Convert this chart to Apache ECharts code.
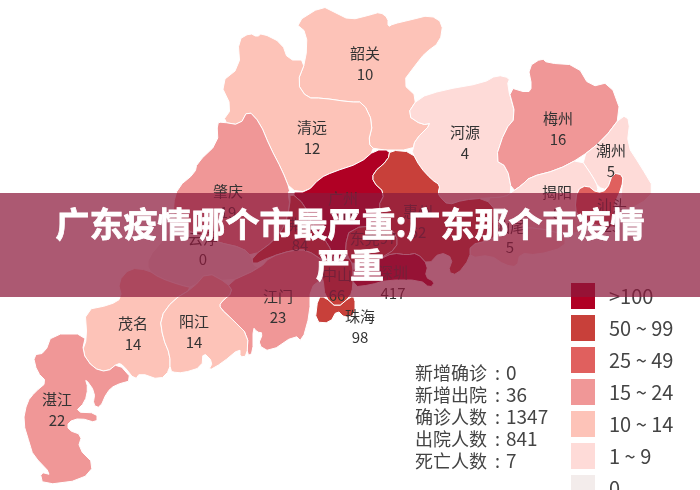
<!DOCTYPE html>
<html>
<head>
<meta charset="utf-8">
<style>
html, body { margin: 0; padding: 0; background: #fff; overflow: hidden; }
#chart { width: 700px; height: 490px; }
</style>
<script src="https://cdn.jsdelivr.net/npm/echarts@6/dist/echarts.min.js"></script>
</head>
<body>
<div id="chart"></div>
<script>
var cityNames = ['韶关', '清远', '河源', '梅州', '潮州', '揭阳', '汕头', '汕尾', '肇庆', '云浮', '广州', '佛山', '东莞', '惠州', '中山', '深圳', '珠海', '江门', '茂名', '阳江', '湛江'];
var cityValues = [10, 12, 4, 16, 5, 8, 25, 5, 19, 0, 346, 84, 97, 62, 66, 417, 98, 23, 14, 14, 22];

var legendLabels = ['>100', '50 ~ 99', '25 ~ 49', '15 ~ 24', '10 ~ 14', '1 ~ 9', '0'];
var legendMins = [100, 50, 25, 15, 10, 1, 0];
var legendMaxs = [100000, 99, 49, 24, 14, 9, 0];
var legendColors = ['#b00024', '#c8403a', '#e0605e', '#f09797', '#fdc3b8', '#fedbd8', '#f3eceb'];

var statNames = ['新增确诊', '新增出院', '确诊人数', '出院人数', '死亡人数'];
var statValues = ['0', '36', '1347', '841', '7'];

var titleText = '广东疫情哪个市最严重:广东那个市疫情\n严重';

var FONT = '"Noto Sans CJK SC", "Noto Sans", sans-serif';

/*==========================================
 * 底图轮廓（按图片像素描的），不是数据
 */
var outlines = {
    '韶关': [[322,6],[334,12],[350,20],[370,15],[380,12],[388,18],[388,27],[393,24],[410,20],[430,15],[443,23],[440,42],[425,53],[417,63],[402,83],[418,98],[407,115],[422,125],[432,123],[415,140],[413,150],[375,150],[368,143],[373,123],[363,102],[350,102],[322,98],[307,98],[297,83],[306,60],[307,33],[295,23]],
    '清远': [[250,33],[257,37],[262,33],[282,43],[288,60],[306,60],[297,83],[307,98],[322,98],[350,102],[363,102],[373,123],[368,143],[375,150],[360,163],[333,172],[320,178],[307,192],[290,190],[282,170],[270,147],[260,123],[248,110],[240,125],[222,122],[232,108],[220,83],[240,67],[238,40]],
    '河源': [[432,123],[422,125],[407,115],[418,98],[443,90],[483,83],[497,75],[510,78],[507,85],[516,117],[505,130],[495,160],[507,167],[512,192],[505,197],[485,198],[463,200],[448,205],[440,197],[438,193],[440,185],[432,180],[420,167],[412,152],[413,150],[415,140]],
    '梅州': [[508,87],[528,93],[532,87],[528,67],[542,58],[547,63],[577,65],[590,87],[610,82],[622,115],[603,140],[580,158],[557,170],[530,177],[522,185],[512,192],[507,167],[495,160],[505,130],[516,117]],
    '潮州': [[622,115],[630,120],[627,145],[640,165],[655,190],[640,205],[620,210],[622,187],[623,175],[613,173],[607,190],[598,187],[593,177],[580,158],[603,140]],
    '揭阳': [[512,192],[522,185],[530,177],[557,170],[580,158],[593,177],[598,187],[597,193],[587,185],[577,190],[575,210],[580,217],[600,227],[565,235],[540,228],[510,228],[500,232],[498,213],[485,198],[505,197]],
    '汕头': [[577,190],[587,185],[597,193],[607,190],[613,173],[623,175],[622,187],[613,207],[617,227],[600,227],[580,217],[575,210]],
    '汕尾': [[470,245],[490,240],[500,232],[510,228],[540,228],[565,235],[565,247],[537,255],[520,253],[517,267],[505,265],[490,255],[470,258]],
    '肇庆': [[248,110],[240,125],[222,122],[217,123],[218,143],[197,163],[195,173],[178,187],[173,205],[175,222],[190,232],[217,242],[243,248],[252,257],[275,240],[285,225],[290,205],[288,193],[290,190],[282,170],[270,147],[260,123]],
    '云浮': [[175,222],[165,238],[148,258],[148,270],[160,278],[180,285],[193,288],[207,272],[227,283],[260,268],[253,265],[252,257],[243,248],[217,242],[190,232]],
    '广州': [[375,150],[390,150],[388,160],[373,173],[373,182],[385,193],[378,207],[385,225],[350,228],[345,247],[348,257],[335,262],[328,243],[312,225],[305,205],[290,192],[307,192],[320,178],[333,172],[360,163]],
    '佛山': [[290,192],[305,205],[312,225],[328,243],[335,262],[325,262],[307,250],[293,250],[270,257],[253,265],[252,257],[275,240],[285,225],[290,205]],
    '东莞': [[350,228],[385,225],[397,235],[397,248],[378,260],[353,265],[348,257],[345,247]],
    '惠州': [[390,150],[412,152],[420,167],[432,180],[440,185],[438,193],[440,197],[448,205],[463,200],[485,198],[498,213],[500,232],[490,240],[470,245],[470,258],[457,275],[448,272],[453,258],[440,252],[428,265],[417,253],[407,255],[393,253],[378,260],[397,248],[397,235],[385,225],[378,207],[385,193],[373,182],[373,173],[388,160]],
    '中山': [[335,262],[348,257],[353,265],[353,287],[350,297],[337,308],[325,297],[323,278],[318,268],[325,262]],
    '深圳': [[353,265],[378,260],[393,253],[407,255],[417,253],[428,265],[425,277],[435,282],[430,288],[420,280],[387,280],[370,285],[353,287]],
    '珠海': [[318,297],[315,322],[330,323],[337,310],[345,318],[355,315],[355,297],[350,297],[337,308],[325,297]],
    '江门': [[220,303],[233,292],[227,283],[260,268],[270,257],[293,250],[307,250],[325,262],[318,268],[323,278],[310,288],[310,313],[302,342],[295,335],[270,352],[258,345],[263,333],[257,332],[253,327],[253,353],[247,356],[248,335],[233,320],[220,308]],
    '茂名': [[118,282],[130,268],[148,270],[160,278],[180,285],[193,288],[173,300],[160,318],[163,338],[170,355],[170,370],[160,380],[140,373],[135,380],[123,365],[118,363],[107,372],[93,368],[82,352],[87,338],[85,310],[110,305],[122,298]],
    '阳江': [[193,288],[207,272],[227,283],[233,292],[220,303],[220,308],[233,320],[248,335],[247,356],[240,357],[240,348],[222,363],[208,371],[213,362],[203,352],[202,367],[183,373],[172,372],[170,370],[170,355],[163,338],[160,318],[173,300]],
    '湛江': [[52,334],[86,334],[82,352],[93,368],[107,372],[118,363],[133,380],[115,385],[107,392],[100,408],[93,405],[95,392],[85,378],[88,388],[85,402],[75,412],[97,413],[97,423],[80,418],[68,422],[68,430],[82,435],[78,448],[95,465],[82,480],[43,485],[40,472],[52,475],[33,455],[30,445],[23,422],[27,402],[35,392],[47,382],[37,372],[33,355],[45,353]]
};

// 标签中心点
var anchors = {
    '韶关': [365,64], '清远': [312,138], '河源': [465,143], '梅州': [558,129], '潮州': [611,161], '揭阳': [557,203], '汕头': [612,216],
    '汕尾': [510,237], '肇庆': [228,202], '云浮': [203,249], '广州': [343,209], '佛山': [300,235], '东莞': [373,238], '惠州': [418,222],
    '中山': [337,285], '深圳': [393,283], '珠海': [360,327], '江门': [278,307], '茂名': [133,334], '阳江': [194,332], '湛江': [57,410]
};

function flip(p) { return [p[0], -p[1]]; }

/*==========================================
 * 切一次角，让描出来的折线圆一点
 */
function softenRing(ring) {
    var out = [];
    for (var i = 0, l = ring.length; i < l; i++) {
        var a = ring[i];
        var b = ring[(i + 1) % l];
        out.push([a[0] * 0.75 + b[0] * 0.25, a[1] * 0.75 + b[1] * 0.25]);
        out.push([a[0] * 0.25 + b[0] * 0.75, a[1] * 0.25 + b[1] * 0.75]);
    }
    return out;
}

function buildGeoJson() {
    var features = [];
    for (var i = 0; i < cityNames.length; i++) {
        var _name = cityNames[i];
        var _ring = softenRing(outlines[_name]).map(flip);
        _ring.push(_ring[0]);
        features.push({
            type: 'Feature',
            properties: { name: _name, cp: flip(anchors[_name]) },
            geometry: { type: 'Polygon', coordinates: [_ring] }
        });
    }
    return { type: 'FeatureCollection', features: features };
}

function buildPieces() {
    var pieces = [];
    for (var i = 0; i < legendLabels.length; i++) {
        pieces.push({ min: legendMins[i], max: legendMaxs[i], label: legendLabels[i], color: legendColors[i] });
    }
    return pieces;
}

function buildSeriesData() {
    var data = [];
    for (var i = 0; i < cityNames.length; i++) {
        data.push({ name: cityNames[i], value: cityValues[i] });
    }
    return data;
}

function buildGraphics() {
    var items = [
        { type: 'rect', z: 100, silent: true, shape: { x: 0, y: 193, width: 700, height: 104 }, style: { fill: 'rgba(140,25,60,0.72)' } },
        { type: 'text', z: 101, silent: true, x: 350, y: 245, style: { text: titleText, fill: '#fff', stroke: '#fff', lineWidth: 0.8, font: 'bold 34px ' + FONT, textAlign: 'center', textVerticalAlign: 'middle', lineHeight: 41 } }
    ];
    for (var i = 0; i < statNames.length; i++) {
        var _y = 373 + i * 22;
        items.push({ type: 'text', silent: true, x: 415, y: _y, style: { text: statNames[i], fill: '#444', font: '18px ' + FONT, textVerticalAlign: 'middle' } });
        items.push({ type: 'text', silent: true, x: 495, y: _y, style: { text: ':', fill: '#444', font: '18px ' + FONT, textVerticalAlign: 'middle' } });
        items.push({ type: 'text', silent: true, x: 506, y: _y, style: { text: statValues[i], fill: '#444', font: '19px ' + FONT, textVerticalAlign: 'middle' } });
    }
    return items;
}

echarts.registerMap('guangdong', buildGeoJson());

var myChart = echarts.init(document.getElementById('chart'));
myChart.setOption({
    animation: false,
    backgroundColor: '#fff',
    visualMap: {
        type: 'piecewise',
        orient: 'vertical',
        align: 'left',
        left: 571,
        top: 283,
        padding: 0,
        itemWidth: 24,
        itemHeight: 26,
        itemGap: 6,
        itemSymbol: 'rect',
        textGap: 14,
        hoverLink: false,
        selectedMode: false,
        textStyle: { color: '#444', fontSize: 20, fontFamily: FONT },
        pieces: buildPieces()
    },
    series: [{
        type: 'map',
        map: 'guangdong',
        silent: true,
        aspectScale: 1,
        boundingCoords: [[0, 0], [700, -490]],
        layoutCenter: ['50%', '50%'],
        layoutSize: 700,
        itemStyle: { borderColor: '#fff', borderWidth: 1 },
        label: {
            show: true,
            color: '#333',
            fontSize: 15,
            lineHeight: 21,
            fontFamily: FONT,
            formatter: function(p) {
                if (p.name === '东莞') { //东莞的标签只有一行
                    return p.name + p.value;
                }
                return p.name + '\n' + p.value;
            }
        },
        data: buildSeriesData()
    }],
    graphic: buildGraphics()
});
</script>
</body>
</html>
